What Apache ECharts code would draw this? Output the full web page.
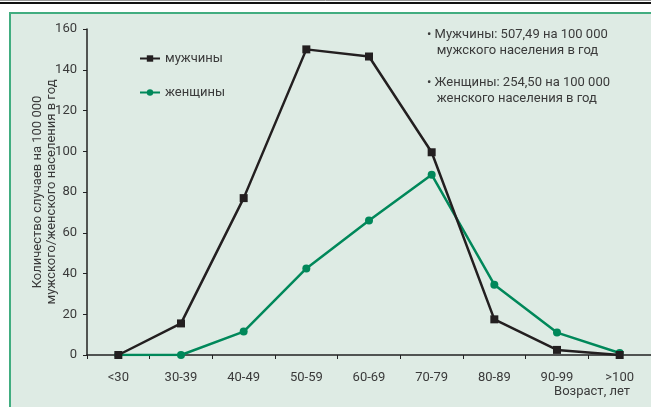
<!DOCTYPE html>
<html>
<head>
<meta charset="utf-8">
<script src="https://cdn.jsdelivr.net/npm/echarts@6/dist/echarts.min.js"></script>
<style>
  html, body { margin: 0; padding: 0; background: #fff; }
  #chart { width: 651px; height: 407px; }
</style>
</head>
<body>
<div id="chart"></div>
<script>
const ageGroups = ["<30", "30-39", "40-49", "50-59", "60-69", "70-79", "80-89", "90-99", ">100"];
const menValues = [0, 15.5, 77, 150, 146.5, 99.5, 17.5, 2.5, 0];
const womenValues = [0, 0, 11.5, 42.5, 66, 88.5, 34.5, 11, 1];
const yTicks = { min: 0, max: 160, interval: 20 };

const FONT = "Roboto";
const TEXT = "#3a3a3a";
const BG = "#deebe4";

const chart = echarts.init(document.getElementById("chart"), null, { renderer: "canvas" });

const option = {
  backgroundColor: "#fff",
  animation: false,
  textStyle: { fontFamily: FONT },
  grid: { left: 87, right: -3, top: 29, bottom: 52, containLabel: false },
  legend: {
    orient: "vertical",
    left: 134,
    top: 47,
    itemWidth: 20,
    itemHeight: 8,
    itemGap: 21,
    textStyle: { fontFamily: FONT, fontSize: 13, color: TEXT },
    data: ["мужчины", "женщины"],
  },
  graphic: [
    { type: "line", silent: true, z: -10, shape: { x1: 0, y1: 0.5, x2: 651, y2: 0.5 }, style: { stroke: "#999", lineWidth: 1 } },
    { type: "line", silent: true, z: -10, shape: { x1: 0, y1: 3, x2: 651, y2: 3 }, style: { stroke: "#111", lineWidth: 2 } },
    { type: "rect", silent: true, z: -10, shape: { x: 10, y: 13, width: 700, height: 450 }, style: { fill: BG, stroke: "#41ad80", lineWidth: 2 } },
    {
      type: "text", left: 427, top: 27, z: 10,
      style: { text: "• Мужчины: 507,49 на 100 000\n   мужского населения в год", font: `13px "${FONT}"`, fill: TEXT, lineHeight: 16 },
    },
    {
      type: "text", left: 427, top: 75, z: 10,
      style: { text: "• Женщины: 254,50 на 100 000\n   женского населения в год", font: `13px "${FONT}"`, fill: TEXT, lineHeight: 16 },
    },
    {
      type: "text", right: 21, top: 385, z: 10,
      style: { text: "Возраст, лет", font: `13px "${FONT}"`, fill: TEXT },
    },
    {
      type: "text", z: 10, x: 45, y: 192, rotation: Math.PI / 2,
      style: {
        text: "Количество случаев на 100 000\nмужского/женского населения в год",
        font: `13px "${FONT}"`, fill: TEXT, align: "center", verticalAlign: "middle", lineHeight: 14,
      },
    },
  ],
  xAxis: {
    type: "category",
    data: ageGroups,
    boundaryGap: true,
    axisLine: { lineStyle: { color: "#222", width: 1.5 } },
    axisTick: { show: true, length: 4, lineStyle: { color: "#222" } },
    axisLabel: { color: TEXT, fontSize: 13, fontFamily: FONT, margin: 16 },
    splitLine: { show: false },
  },
  yAxis: {
    type: "value",
    min: yTicks.min,
    max: yTicks.max,
    interval: yTicks.interval,
    axisLine: { show: true, lineStyle: { color: "#222", width: 1.5 } },
    axisTick: { show: true, length: 4, lineStyle: { color: "#222" } },
    axisLabel: { color: TEXT, fontSize: 13, fontFamily: FONT, margin: 10 },
    splitLine: { show: false },
  },
  series: [
    {
      name: "мужчины",
      type: "line",
      data: menValues,
      color: "#231f20",
      symbol: "rect",
      symbolSize: 8,
      lineStyle: { width: 2.5 },
      z: 3,
    },
    {
      name: "женщины",
      type: "line",
      data: womenValues,
      color: "#00885a",
      symbol: "circle",
      symbolSize: 8,
      lineStyle: { width: 2.5 },
      z: 2,
    },
  ],
};

chart.setOption(option);
</script>
</body>
</html>
